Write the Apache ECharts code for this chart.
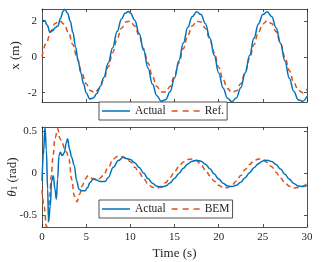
<!DOCTYPE html>
<html><head><meta charset="utf-8">
<script src="https://cdn.jsdelivr.net/npm/echarts@6/dist/echarts.min.js"></script>
<style>html,body{margin:0;padding:0;background:#fff}#c{width:323px;height:262px}</style>
</head><body><div id="c"></div>
<script>
// ---- data ----
const timeTicks = [0, 5, 10, 15, 20, 25, 30];
const xTicks = [-2, 0, 2];
const thetaTicks = [-0.5, 0, 0.5];

const tRef = [0,0.5,1,1.5,2,2.5,3,3.5,4,4.5,5,5.5,6,6.5,7,7.5,8,8.5,9,9.5,10,10.5,11,11.5,12,12.5,13,13.5,14,14.5,15,15.5,16,16.5,17,17.5,18,18.5,19,19.5,20,20.5,21,21.5,22,22.5,23,23.5,24,24.5,25,25.5,26,26.5,27,27.5,28,28.5,29,29.5,30];
const xRef = [0,0.78,1.43,1.86,2.0,1.82,1.35,0.67,-0.12,-0.89,-1.51,-1.90,-1.99,-1.77,-1.26,-0.56,0.23,0.99,1.59,1.94,1.98,1.71,1.17,0.45,-0.35,-1.09,-1.66,-1.96,-1.96,-1.65,-1.07,-0.33,0.46,1.18,1.72,1.98,1.93,1.58,0.97,0.22,-0.58,-1.27,-1.77,-1.99,-1.90,-1.50,-0.87,-0.10,0.68,1.36,1.83,2.00,1.85,1.40,0.74,-0.02,-0.77,-1.43,-1.86,-2.0,-1.81];

const tXAct = [0,0.3,0.6,0.9,1.2,1.5,1.8,2.1,2.4,2.6,2.9,3.2,3.5,3.8,4.1,4.4,4.7,5.0,5.4,5.8,6.2,6.6,7.0,7.5,8.0,8.5,9.0,9.4,9.8,10,10.5,11,11.5,12,12.5,13,13.5,14,14.5,15,15.5,16,16.5,17,17.5,18,18.5,19,19.5,20,20.5,21,21.5,22,22.5,23,23.5,24,24.5,25,25.5,26,26.5,27,27.5,28,28.5,29,29.5,30];
const xAct = [2.02,2.02,1.75,1.36,1.45,1.62,1.72,2.15,2.55,2.65,2.42,1.98,1.35,0.55,-0.25,-0.9,-1.5,-2.0,-2.35,-2.3,-2.05,-1.65,-1.15,-0.35,0.5,1.4,2.1,2.42,2.52,2.44,2.04,1.30,0.37,-0.63,-1.52,-2.17,-2.48,-2.39,-1.95,-1.18,-0.22,0.76,1.63,2.23,2.50,2.35,1.84,1.04,0.08,-0.90,-1.74,-2.31,-2.50,-2.30,-1.73,-0.91,0.07,1.04,1.83,2.35,2.50,2.24,1.62,0.75,-0.24,-1.20,-1.92,-2.39,-2.48,-2.20];

const tThAct = [0,0.15,0.34,0.49,0.64,0.74,0.94,1.09,1.28,1.47,1.62,1.77,1.92,2.07,2.3,2.52,2.75,2.9,3.13,3.35,3.66,3.92,4.19,4.49,4.87,5.16,5.43,5.81,6.19,6.57,7.13,7.5,8.07,8.64,9.2,9.5,10,10.5,11,11.5,12,12.5,13,13.5,14,14.5,15,15.5,16,16.5,17,17.5,18,18.5,19,19.5,20,20.5,21,21.5,22,22.5,23,23.5,24,24.5,25,25.5,26,26.5,27,27.5,28,28.5,29,29.5,30];
const thAct = [-0.09,0.21,0.55,0.28,-0.19,-0.57,-0.39,-0.09,-0.03,-0.19,-0.31,-0.07,0.21,0.25,0.21,0.245,0.36,0.41,0.28,0.19,0.09,-0.09,-0.19,-0.21,-0.21,-0.17,-0.11,-0.07,-0.08,-0.10,-0.10,-0.05,0.07,0.15,0.19,0.175,0.162,0.124,0.068,0.002,-0.064,-0.119,-0.154,-0.165,-0.151,-0.115,-0.063,-0.002,0.058,0.110,0.143,0.155,0.142,0.107,0.053,-0.009,-0.070,-0.120,-0.152,-0.159,-0.143,-0.106,-0.053,0.007,0.066,0.114,0.146,0.155,0.140,0.103,0.050,-0.012,-0.072,-0.121,-0.152,-0.159,-0.148];

const tThBem = [0,0.25,0.5,0.7,0.87,1.05,1.25,1.47,1.8,2.0,2.3,2.52,2.78,3.05,3.35,3.66,3.96,4.26,4.56,4.87,5.24,5.62,6.0,6.38,6.95,7.5,8.07,8.5,8.95,9.5,10,10.5,11,11.5,12,12.5,13,13.5,14,14.5,15,15.5,16,16.5,17,17.5,18,18.5,19,19.5,20,20.5,21,21.5,22,22.5,23,23.5,24,24.5,25,25.5,26,26.5,27,27.5,28,28.5,29,29.5,30];
const thBem = [-0.2,-0.4,-0.64,-0.6,-0.27,-0.03,0.21,0.42,0.53,0.42,0.36,0.3,0.25,0.17,-0.07,-0.27,-0.34,-0.25,-0.15,-0.07,-0.03,-0.06,-0.07,-0.07,-0.03,0.07,0.17,0.2,0.2,0.182,0.136,0.070,0.010,-0.064,-0.127,-0.168,-0.178,-0.158,-0.113,-0.052,0.016,0.081,0.133,0.163,0.169,0.147,0.101,0.039,-0.030,-0.095,-0.144,-0.172,-0.172,-0.144,-0.093,-0.027,0.043,0.105,0.150,0.170,0.162,0.129,0.076,0.011,-0.056,-0.114,-0.156,-0.175,-0.17,-0.155,-0.12];

// ---- chart ----
const zip = (t, v) => t.map((x, i) => [x, v[i]]);
const FONT = 'Liberation Serif';
const AX = '#262626';
const BLUE = '#0072BD', ORANGE = '#D95319';
const SOLID_ICON = 'path://M0,0H28V1.5H0Z';
const DASH_ICON = 'path://M0,0H6V1.5H0Z M11,0H17V1.5H11Z M22,0H28V1.5H22Z';

function xAx(grid, pos, labels, name) {
  return {
    type: 'value', gridIndex: grid, position: pos, min: 0, max: 30, interval: 5,
    axisLine: {show: true, onZero: false, lineStyle: {color: AX, width: 0.8}},
    axisTick: {show: true, inside: true, length: 3, lineStyle: {color: AX, width: 0.8},
               customValues: timeTicks},
    axisLabel: {show: labels, customValues: timeTicks, fontFamily: FONT, fontSize: 11, color: AX, margin: 5},
    splitLine: {show: false},
    name: name || '', nameLocation: 'middle', nameGap: 20, nameMoveOverlap: false,
    nameTextStyle: {fontFamily: FONT, fontSize: 13, color: AX}
  };
}
function yAx(grid, pos, min, max, ticks, labels, name, gap, rich) {
  return {
    type: 'value', gridIndex: grid, position: pos, min: min, max: max,
    axisLine: {show: true, onZero: false, lineStyle: {color: AX, width: 0.8}},
    axisTick: {show: true, inside: true, length: 3, lineStyle: {color: AX, width: 0.8},
               customValues: ticks},
    axisLabel: {show: labels, customValues: ticks, fontFamily: FONT, fontSize: 11, color: AX, margin: 5},
    splitLine: {show: false},
    name: name || '', nameLocation: 'middle', nameGap: gap || 16, nameRotate: 90,
    nameMoveOverlap: false,
    nameTextStyle: {fontFamily: FONT, fontSize: 13, color: AX, rich: rich}
  };
}
const legendBase = {
  orient: 'horizontal', itemWidth: 28, itemHeight: 10, itemGap: 6,
  padding: [3, 3, 3, 3], borderColor: AX, borderWidth: 0.8, backgroundColor: '#fff',
  borderRadius: 0, symbolKeepAspect: true,
  textStyle: {fontFamily: FONT, fontSize: 11.5, color: AX}
};
const option = {
  animation: false,
  backgroundColor: '#fff',
  grid: [
    {left: 42, top: 9, width: 265, height: 93, containLabel: false, outerBoundsMode: 'none'},
    {left: 42, top: 127, width: 265, height: 100, containLabel: false, outerBoundsMode: 'none'}
  ],
  xAxis: [
    xAx(0, 'bottom', false), xAx(0, 'top', false),
    xAx(1, 'bottom', true, 'Time (s)'), xAx(1, 'top', false)
  ],
  yAxis: [
    yAx(0, 'left', -2.52, 2.66, xTicks, true, 'x (m)', 20),
    yAx(0, 'right', -2.52, 2.66, xTicks, false),
    yAx(1, 'left', -0.64, 0.55, thetaTicks, true, '{i|θ}{s|1} (rad)', 23,
        {i: {fontStyle: 'italic', fontFamily: FONT, fontSize: 13, color: AX},
         s: {fontFamily: FONT, fontSize: 9, color: AX, padding: [0, 0, -4, 0]}}),
    yAx(1, 'right', -0.64, 0.55, thetaTicks, false)
  ],
  legend: [
    Object.assign({}, legendBase, {left: 99, top: 102,
      data: [{name: 'Actual', icon: SOLID_ICON}, {name: 'Ref.', icon: DASH_ICON}]}),
    Object.assign({}, legendBase, {left: 99, top: 200,
      data: [{name: 'Actual', icon: SOLID_ICON}, {name: 'BEM', icon: DASH_ICON}]})
  ],
  series: [
    {name: 'Actual', type: 'line', xAxisIndex: 0, yAxisIndex: 0, data: zip(tXAct, xAct),
     showSymbol: false, symbol: 'none', smooth: 0.4, smoothMonotone: 'x',
     lineStyle: {color: BLUE, width: 1.5}, itemStyle: {color: BLUE}, z: 3},
    {name: 'Ref.', type: 'line', xAxisIndex: 0, yAxisIndex: 0, data: zip(tRef, xRef),
     showSymbol: false, symbol: 'none', smooth: 0.4, smoothMonotone: 'x',
     lineStyle: {color: ORANGE, width: 1.5, type: [5, 3.5]}, itemStyle: {color: ORANGE}, z: 2},
    {name: 'Actual', type: 'line', xAxisIndex: 2, yAxisIndex: 2, data: zip(tThAct, thAct),
     showSymbol: false, symbol: 'none', smooth: 0.4, smoothMonotone: 'x',
     lineStyle: {color: BLUE, width: 1.5}, itemStyle: {color: BLUE}, z: 3},
    {name: 'BEM', type: 'line', xAxisIndex: 2, yAxisIndex: 2, data: zip(tThBem, thBem),
     showSymbol: false, symbol: 'none', smooth: 0.4, smoothMonotone: 'x',
     lineStyle: {color: ORANGE, width: 1.5, type: [5, 3.5]}, itemStyle: {color: ORANGE}, z: 2}
  ]
};
const chart = echarts.init(document.getElementById('c'));
chart.setOption(option);
</script>
</body></html>
